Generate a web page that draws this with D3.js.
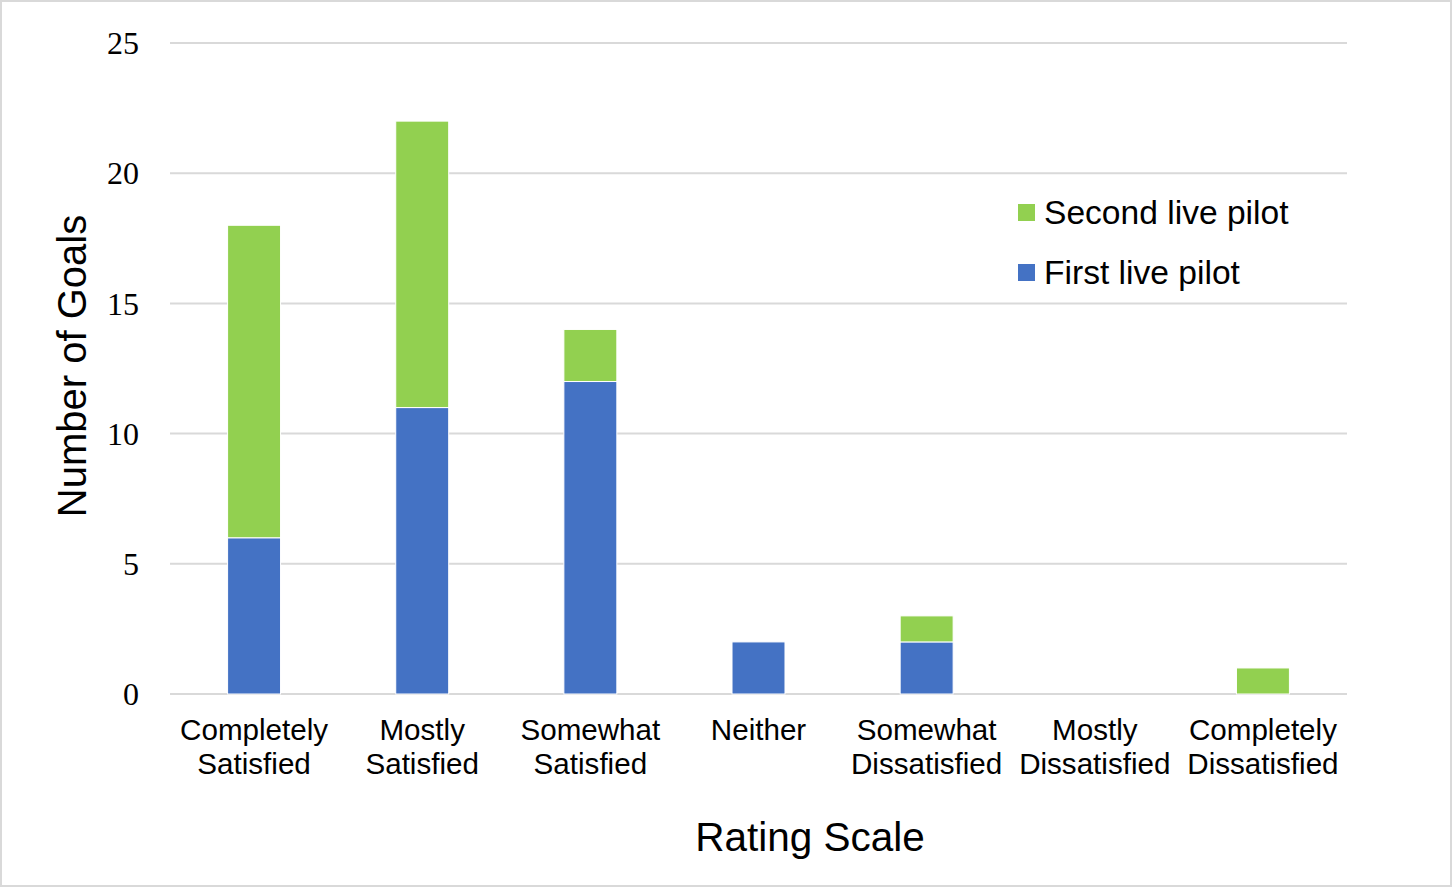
<!DOCTYPE html>
<html>
<head>
<meta charset="utf-8">
<script src="https://cdn.jsdelivr.net/npm/d3@7"></script>
<style>
  html, body { margin: 0; padding: 0; background: #fff; }
  svg { display: block; }
</style>
</head>
<body>
<svg id="chart" width="1453" height="888"></svg>
<script>
const categories = [
  ['Completely', 'Satisfied'],
  ['Mostly', 'Satisfied'],
  ['Somewhat', 'Satisfied'],
  ['Neither'],
  ['Somewhat', 'Dissatisfied'],
  ['Mostly', 'Dissatisfied'],
  ['Completely', 'Dissatisfied']
]
const firstPilot = [6, 11, 12, 2, 2, 0, 0]
const secondPilot = [12, 11, 2, 0, 1, 0, 1]
const seriesNames = ['First live pilot', 'Second live pilot']
const yTicks = [0, 5, 10, 15, 20, 25]

const colors = ['#4472C4', '#92D050']

const svg = d3.select('#chart')

// outer frame
svg.append('rect')
  .attr('x', 1).attr('y', 1).attr('width', 1450).attr('height', 885)
  .attr('fill', '#fff').attr('stroke', '#d9d9d9').attr('stroke-width', 2)

const x = d3.scaleBand()
  .domain(d3.range(categories.length))
  .range([170, 1347])
  .paddingInner(0.685)
  .paddingOuter(0.3425)

const y = d3.scaleLinear().domain([0, 25]).range([694, 43])

// gridlines
svg.append('g').selectAll('line').data(yTicks).enter().append('line')
  .attr('x1', 170).attr('x2', 1347)
  .attr('y1', d => y(d)).attr('y2', d => y(d))
  .attr('stroke', '#d9d9d9').attr('stroke-width', 2)

// y tick labels
svg.append('g').selectAll('text').data(yTicks).enter().append('text')
  .attr('x', 139).attr('y', d => y(d)).attr('dy', '0.35em')
  .attr('text-anchor', 'end')
  .style('font-family', '"Liberation Serif", "Times New Roman", serif')
  .style('font-size', '32px')
  .text(d => d)

// stacked bars
const table = categories.map((c, i) => ({i: i, first: firstPilot[i], second: secondPilot[i]}))
const stacked = d3.stack().keys(['first', 'second'])(table)

svg.append('g').selectAll('g').data(stacked).enter().append('g')
  .attr('fill', (d, k) => colors[k])
  .selectAll('rect').data(d => d.filter(p => p[1] > p[0])).enter().append('rect')
  .attr('x', d => x(d.data.i))
  .attr('width', x.bandwidth())
  .attr('y', d => y(d[1]))
  .attr('height', d => y(d[0]) - y(d[1]))
  .attr('stroke', '#fff').attr('stroke-width', 1)

// category labels
const catLabels = svg.append('g').selectAll('text').data(categories).enter().append('text')
  .attr('x', (d, i) => x(i) + x.bandwidth() / 2)
  .attr('y', 740)
  .attr('text-anchor', 'middle')
  .style('font-family', '"Liberation Sans", Arial, sans-serif')
  .style('font-size', '29.6px')
catLabels.selectAll('tspan').data(d => d).enter().append('tspan')
  .attr('x', function() { return d3.select(this.parentNode).attr('x') })
  .attr('dy', (d, i) => i === 0 ? 0 : 34)
  .text(d => d)

// axis titles
svg.append('text')
  .attr('x', 810).attr('y', 851)
  .attr('text-anchor', 'middle')
  .style('font-family', '"Liberation Sans", Arial, sans-serif')
  .style('font-size', '40.5px')
  .text('Rating Scale')

svg.append('text')
  .attr('transform', 'translate(86, 366) rotate(-90)')
  .attr('text-anchor', 'middle')
  .style('font-family', '"Liberation Sans", Arial, sans-serif')
  .style('font-size', '40px')
  .text('Number of Goals')

// legend (second series on top)
const legendItems = [1, 0]
const legend = svg.append('g').selectAll('g').data(legendItems).enter().append('g')
  .attr('transform', (d, i) => `translate(1018, ${204 + i * 60})`)
legend.append('rect')
  .attr('width', 17).attr('height', 17)
  .attr('fill', d => colors[d])
legend.append('text')
  .attr('x', 26).attr('y', 20)
  .style('font-family', '"Liberation Sans", Arial, sans-serif')
  .style('font-size', '33.6px')
  .text(d => seriesNames[d])
</script>
</body>
</html>
